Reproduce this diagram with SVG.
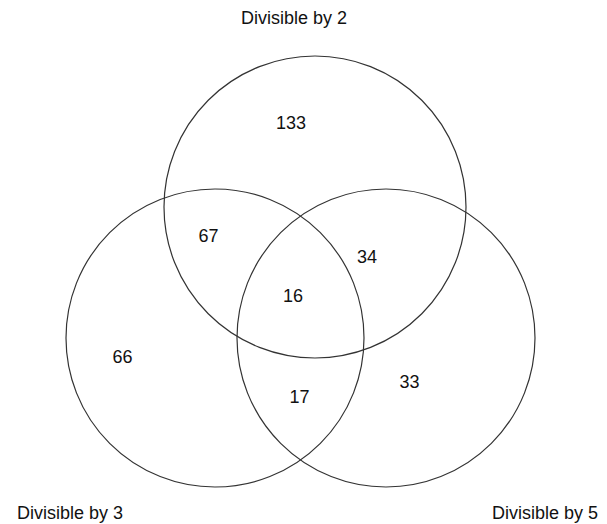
<svg xmlns="http://www.w3.org/2000/svg" width="607" height="524" viewBox="0 0 607 524">
<style>
circle{fill:none;stroke:#333;stroke-width:1.2}
text{font-family:"Liberation Sans",Arial,sans-serif;font-size:18px;fill:#111;text-anchor:middle}
</style>
<rect width="607" height="524" fill="#fff"/>
<g id="set2"><circle cx="315" cy="207" r="151"/><text x="294" y="24">Divisible by 2</text></g>
<g id="set3"><circle cx="215" cy="338" r="149"/><text x="70" y="519">Divisible by 3</text></g>
<g id="set5"><circle cx="386" cy="338" r="149"/><text x="545" y="519">Divisible by 5</text></g>
<g id="regions">
<text x="291" y="129">133</text>
<text x="208.5" y="242">67</text>
<text x="367" y="263">34</text>
<text x="293" y="302">16</text>
<text x="122.5" y="363">66</text>
<text x="299.5" y="403">17</text>
<text x="409.5" y="388">33</text>
</g>
<g id="connectors"/>
</svg>
